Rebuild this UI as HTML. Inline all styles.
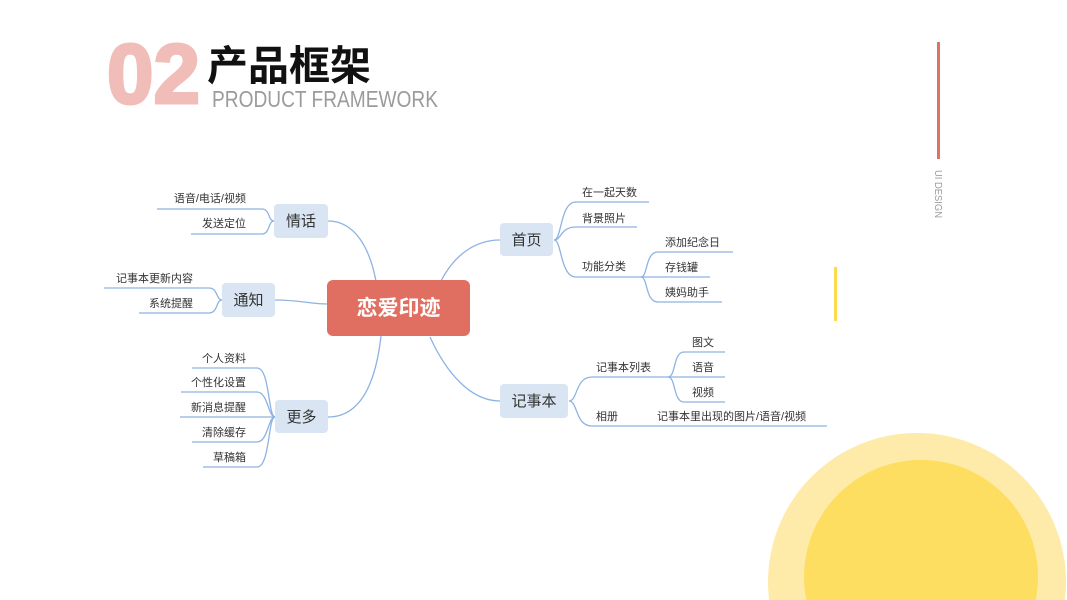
<!DOCTYPE html>
<html><head><meta charset="utf-8">
<style>
html,body{margin:0;padding:0;background:#fff;width:1067px;height:600px;overflow:hidden;}
svg{display:block;}
text{font-family:"Liberation Sans","Noto Sans CJK SC",sans-serif;}
.leaf{font-size:11px;fill:#333;}
.br{font-size:15px;fill:#333;text-anchor:middle;}
.ln{fill:none;stroke:#8db3e2;stroke-width:1.3;}
</style></head>
<body>
<svg width="1067" height="600" viewBox="0 0 1067 600" xmlns="http://www.w3.org/2000/svg">
<rect width="1067" height="600" fill="#fff"/>
<!-- title -->
<text x="107" y="103" font-size="84" font-weight="bold" fill="#f1bdb8" stroke="#f1bdb8" stroke-width="3" textLength="93" lengthAdjust="spacingAndGlyphs">02</text>
<text x="207" y="80" font-size="41" font-weight="bold" fill="#111" style="font-family:'Noto Sans CJK SC',sans-serif">产品框架</text>
<text x="212" y="107" font-size="23" fill="#9b9b9b" textLength="226" lengthAdjust="spacingAndGlyphs">PRODUCT FRAMEWORK</text>
<!-- right decorations -->
<rect x="937" y="42" width="3" height="117" fill="#e07166"/>
<text transform="translate(935,170) rotate(90)" x="0" y="0" font-size="10" fill="#9b9b9b" textLength="48" lengthAdjust="spacingAndGlyphs">UI DESIGN</text>
<rect x="834" y="267" width="3" height="54" fill="#fdd94e"/>
<path d="M769.1,600 A149,149 0 1 1 1064.9,600 Z" fill="#feeba9"/>
<path d="M806.3,600 A117,117 0 1 1 1035.7,600 Z" fill="#fede60"/>

<!-- main connectors -->
<path class="ln" d="M328,221 C356,221 370,250 376,281"/>
<path class="ln" d="M275,300 C300,300 310,304 328,304"/>
<path class="ln" d="M328,417 C362,417 376,380 381,336"/>
<path class="ln" d="M441,281 C455,254 476,240 500,240"/>
<path class="ln" d="M430,337 C446,372 470,401 500,401"/>

<!-- 情话 leaves -->
<path class="ln" d="M157,209 H262 C270,209 268,221 274,221"/>
<path class="ln" d="M191,234 H262 C270,234 268,221 274,221"/>
<text class="leaf" x="246" y="202" text-anchor="end">语音/电话/视频</text>
<text class="leaf" x="246" y="227" text-anchor="end">发送定位</text>

<!-- 通知 leaves -->
<path class="ln" d="M104,288 H209 C218,288 216,300 222,300"/>
<path class="ln" d="M139,313 H209 C218,313 216,300 222,300"/>
<text class="leaf" x="193" y="282" text-anchor="end">记事本更新内容</text>
<text class="leaf" x="193" y="307" text-anchor="end">系统提醒</text>

<!-- 更多 leaves -->
<path class="ln" d="M192,368 H257 C270,368 268,417 275,417"/>
<path class="ln" d="M181,392 H257 C268,392 268,417 275,417"/>
<path class="ln" d="M180,417 H275"/>
<path class="ln" d="M192,442 H257 C268,442 268,417 275,417"/>
<path class="ln" d="M203,467 H257 C270,467 268,417 275,417"/>
<text class="leaf" x="246" y="362" text-anchor="end">个人资料</text>
<text class="leaf" x="246" y="386" text-anchor="end">个性化设置</text>
<text class="leaf" x="246" y="411" text-anchor="end">新消息提醒</text>
<text class="leaf" x="246" y="436" text-anchor="end">清除缓存</text>
<text class="leaf" x="246" y="461" text-anchor="end">草稿箱</text>

<!-- 首页 leaves -->
<path class="ln" d="M554,240 C562,240 560,202 576,202 H649"/>
<path class="ln" d="M554,240 C562,240 560,227 576,227 H637"/>
<path class="ln" d="M554,240 C562,240 560,277 576,277 H642"/>
<text class="leaf" x="582" y="196">在一起天数</text>
<text class="leaf" x="582" y="222">背景照片</text>
<text class="leaf" x="582" y="270">功能分类</text>
<path class="ln" d="M641,277 C648,277 645,252 658,252 H733"/>
<path class="ln" d="M641,277 H710"/>
<path class="ln" d="M641,277 C648,277 645,302 658,302 H722"/>
<text class="leaf" x="665" y="246">添加纪念日</text>
<text class="leaf" x="665" y="271">存钱罐</text>
<text class="leaf" x="665" y="296">姨妈助手</text>

<!-- 记事本 leaves -->
<path class="ln" d="M569,401 C578,401 575,377 592,377 H668"/>
<path class="ln" d="M569,401 C578,401 575,426 592,426 H827"/>
<text class="leaf" x="596" y="371">记事本列表</text>
<text class="leaf" x="596" y="420">相册</text>
<text class="leaf" x="657" y="420">记事本里出现的图片/语音/视频</text>
<path class="ln" d="M668,377 C676,377 673,352 684,352 H725"/>
<path class="ln" d="M668,377 H725"/>
<path class="ln" d="M668,377 C676,377 673,402 684,402 H725"/>
<text class="leaf" x="692" y="346">图文</text>
<text class="leaf" x="692" y="371">语音</text>
<text class="leaf" x="692" y="396">视频</text>

<!-- branch boxes -->
<rect x="274" y="204" width="54" height="34" rx="4" fill="#dae5f3"/>
<text class="br" x="301" y="226">情话</text>
<rect x="222" y="283" width="53" height="34" rx="4" fill="#dae5f3"/>
<text class="br" x="248.5" y="305">通知</text>
<rect x="275" y="400" width="53" height="33" rx="4" fill="#dae5f3"/>
<text class="br" x="301.5" y="422">更多</text>
<rect x="500" y="223" width="53" height="33" rx="4" fill="#dae5f3"/>
<text class="br" x="526.5" y="245">首页</text>
<rect x="500" y="384" width="68" height="34" rx="4" fill="#dae5f3"/>
<text class="br" x="534" y="406">记事本</text>

<!-- center -->
<rect x="327" y="280" width="143" height="56" rx="6" fill="#e06f62"/>
<text x="398.5" y="315" font-size="21" font-weight="bold" fill="#fff" text-anchor="middle">恋爱印迹</text>
</svg>
</body></html>
